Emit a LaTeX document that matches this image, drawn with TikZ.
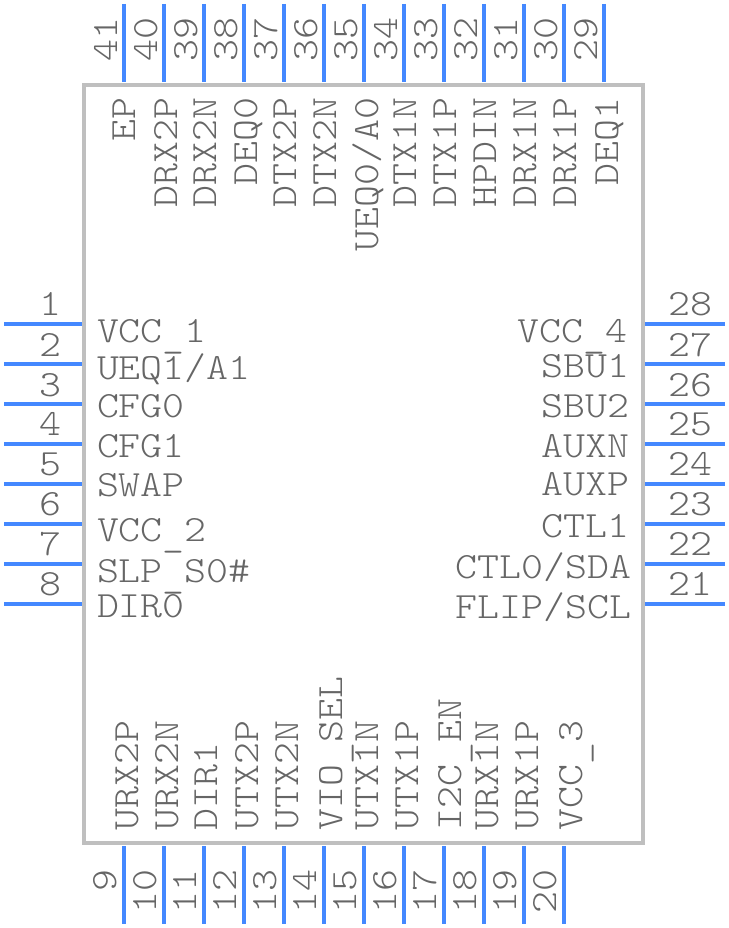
\documentclass[tikz,border=0pt]{standalone}
\usepackage{fontspec}
\newfontfamily\pinfont[FakeStretch=1.13]{Latin Modern Mono Light}
\newcommand{\lowbar}{\raisebox{-5pt}{\_}}
\definecolor{pinblue}{HTML}{4488FF}
\definecolor{bodygrey}{HTML}{BFBFBF}
\definecolor{textgrey}{HTML}{666666}
\tikzset{
  x=1pt,y=-1pt,
  pinline/.style={draw=pinblue,line width=4pt},
  bodybox/.style={draw=bodygrey,line width=4pt},
  txt/.style={inner sep=0pt,outer sep=0pt,text=textgrey,font=\pinfont\fontsize{37}{37}\selectfont},
  lft/.style={txt,anchor=base west},
  rgt/.style={txt,anchor=base east},
  ctr/.style={txt,anchor=base},
  vend/.style={txt,rotate=90,anchor=base east},
  vstart/.style={txt,rotate=90,anchor=base west},
}
\begin{document}
\begin{tikzpicture}
\useasboundingbox (0,0) rectangle (728,928);
\draw[bodybox] (84,85) rectangle (643,843);
% left pins
\foreach \n/\y/\by in {1/324/315,2/364/356,3/404/396,4/444/435,5/484/475,6/524/515,7/564/555,8/604/595}{
  \coordinate (La\n) at (4,\y); \coordinate (Lb\n) at (82,\y);
  \draw[pinline] (La\n) -- (Lb\n);
  \node[ctr] (Ln\n) at (50,\by) {\n};
}
% right pins
\foreach \n/\y/\by in {28/324/315,27/364/356,26/404/396,25/444/435,24/484/475,23/524/515,22/564/555,21/604/595}{
  \coordinate (Ra\n) at (645,\y); \coordinate (Rb\n) at (725,\y);
  \draw[pinline] (Ra\n) -- (Rb\n);
  \node[ctr] (Rn\n) at (690,\by) {\n};
}
% top pins
\foreach \n/\x in {41/124,40/164,39/204,38/244,37/284,36/324,35/364,34/404,33/444,32/484,31/524,30/564,29/604}{
  \coordinate (Ta\n) at (\x,4); \coordinate (Tb\n) at (\x,82);
  \draw[pinline] (Ta\n) -- (Tb\n);
  \node[vend] (Tn\n) at (\x-8+1,18) {\n};
}
% bottom pins
\foreach \n/\x in {9/124,10/164,11/204,12/244,13/284,14/324,15/364,16/404,17/444,18/484,19/524,20/564}{
  \coordinate (Ba\n) at (\x,846); \coordinate (Bb\n) at (\x,924);
  \draw[pinline] (Ba\n) -- (Bb\n);
  \node[vend] (Bn\n) at (\x-8,870) {\n};
}
% left labels
\foreach \i/\t/\x/\y in {1/{VCC\lowbar 1}/97/342,2/{UEQ1/A1}/97/379,3/CFG0/97/417,4/CFG1/97/457,5/SWAP/97/496,6/{VCC\lowbar 2}/97/541,7/{SLP\lowbar S0\#}/97/582,8/DIR0/97/617}{
  \node[lft] (LL\i) at (\x,\y) {\t};
}
% right labels
\foreach \i/\t/\x/\y in {1/{VCC\lowbar 4}/627/342,2/SBU1/629/377,3/SBU2/629/417,4/AUXN/629/457,5/AUXP/629/495,6/CTL1/629/537,7/{CTL0/SDA}/631/578,8/{FLIP/SCL}/631/618}{
  \node[rgt] (RL\i) at (\x,\y) {\t};
}
% top labels
\foreach \i/\t/\x in {1/EP/135,2/DRX2P/177,3/DRX2N/216,4/DEQ0/257,5/DTX2P/296,6/DTX2N/336,7/{UEQ0/A0}/378,8/DTX1N/416,9/DTX1P/456,10/HPDIN/496,11/DRX1N/536,12/DRX1P/576,13/DEQ1/618}{
  \node[vend] (TL\i) at (\x,98) {\t};
}
% bottom labels
\foreach \i/\t/\x in {1/URX2P/138,2/URX2N/178,3/DIR1/217,4/UTX2P/258,5/UTX2N/298,6/{VIO\lowbar SEL}/342,7/UTX1N/378,8/UTX1P/418,9/{I2C\lowbar EN}/461,10/URX1N/498,11/URX1P/538,12/{VCC\lowbar 3}/582}{
  \node[vstart] (BL\i) at (\x,830) {\t};
}
\end{tikzpicture}
\end{document}
